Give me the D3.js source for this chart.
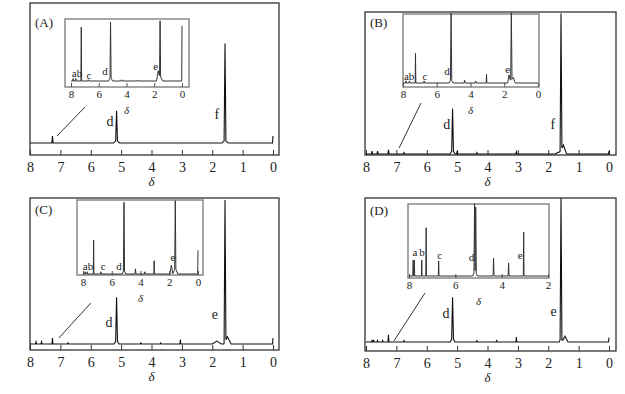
<!DOCTYPE html>
<html>
<head>
<meta charset="utf-8">
<script src="https://cdn.jsdelivr.net/npm/d3@7"></script>
<style>
  body { margin: 0; background: #fff; }
  svg { display: block; font-family: "Liberation Serif", "DejaVu Serif", serif; }
</style>
</head>
<body>
<svg id="chart" width="625" height="394"></svg>
<script>
// tick values
const mainTicks = [8, 7, 6, 5, 4, 3, 2, 1, 0];
const insetTicks = [8, 6, 4, 2, 0];
const insetTicksD = [8, 6, 4, 2];

// peaks: [ppm, intensity (0-100), half width in ppm]
const peaksA = [[7.26, 5, 0.02], [5.15, 21, 0.03], [5.15, 2, 0.1], [1.58, 69, 0.03], [1.58, 2, 0.1], [0, 5, 0.015]];
const peaksB = [[7.8, 2, 0.02], [7.62, 2, 0.02], [7.26, 3, 0.02], [6.75, 1, 0.02], [5.15, 29, 0.03], [5.15, 3, 0.08],
  [5.0, 2, 0.02], [4.35, 1, 0.02], [3.05, 1.5, 0.02], [1.58, 96, 0.03], [1.5, 5, 0.1], [1.58, 2, 0.2], [0, 2, 0.02]];
const peaksC = [[7.8, 1.5, 0.02], [7.62, 1.5, 0.02], [7.26, 4, 0.015], [6.75, 0.8, 0.02], [5.15, 29, 0.03], [5.15, 3, 0.08],
  [4.35, 0.8, 0.02], [3.7, 0.8, 0.02], [3.05, 3, 0.015], [1.85, 2, 0.15], [1.58, 97, 0.03], [1.5, 5, 0.12], [0, 4, 0.015]];
const peaksD = [[7.8, 1.5, 0.015], [7.75, 1.5, 0.015], [7.62, 1, 0.015], [7.45, 1, 0.015], [7.26, 5, 0.015], [6.75, 1, 0.02],
  [5.15, 28, 0.03], [5.15, 3, 0.08], [4.35, 1, 0.02], [3.7, 1, 0.02], [3.05, 3.5, 0.015], [1.58, 97, 0.03],
  [1.45, 4, 0.1], [1.58, 3, 0.06], [0, 3, 0.015]];

const insetPeaksA = [[7.85, 4, 0.03], [7.65, 4, 0.03], [7.26, 87, 0.025], [6.75, 2, 0.04], [5.15, 89, 0.04], [5.15, 6, 0.15],
  [4.35, 2, 0.04], [3.2, 1.5, 0.04], [1.72, 14, 0.12], [1.58, 89, 0.04], [1.58, 8, 0.2], [0, 89, 0.02]];
const insetPeaksB = [[7.82, 3, 0.03], [7.62, 3, 0.03], [7.26, 43, 0.02], [6.75, 3, 0.03], [5.15, 96, 0.04], [5.15, 5, 0.12],
  [4.35, 4, 0.03], [3.7, 3, 0.03], [3.05, 13, 0.02], [1.72, 10, 0.08], [1.58, 96, 0.04], [1.45, 6, 0.1], [1.58, 6, 0.2]];
const insetPeaksC = [[7.85, 3, 0.04], [7.7, 3, 0.03], [7.26, 46, 0.02], [6.75, 3, 0.03], [5.15, 91, 0.04], [5.15, 6, 0.12],
  [4.35, 7, 0.03], [3.7, 3, 0.03], [3.05, 18, 0.02], [1.85, 12, 0.1], [1.58, 91, 0.04], [1.58, 8, 0.18], [0, 32, 0.02]];
const insetPeaksD = [[7.82, 22, 0.015], [7.77, 22, 0.015], [7.45, 22, 0.015], [7.26, 67, 0.015], [6.72, 21, 0.015],
  [5.17, 94, 0.025], [5.12, 90, 0.025], [5.15, 8, 0.1], [4.35, 25, 0.02], [3.7, 18, 0.02], [3.05, 61, 0.015]];

// peak labels: [text, ppm, intensity]
const labelsA = [["d", 5.37, 12], ["f", 1.85, 17]];
const labelsB = [["d", 5.34, 17.6], ["f", 1.85, 17.6]];
const labelsC = [["d", 5.4, 11.6], ["e", 1.91, 17]];
const labelsD = [["d", 5.37, 16.7], ["e", 1.82, 18]];

const insetLabelsA = [["ab", 7.57, 6.5], ["c", 6.7, 3], ["d", 5.55, 9], ["e", 1.9, 17]];
const insetLabelsB = [["ab", 7.64, 5], ["c", 6.7, 5], ["d", 5.4, 11], ["e", 1.8, 14]];
const insetLabelsC = [["ab", 7.65, 6], ["c", 6.6, 6], ["d", 5.5, 6], ["e", 1.75, 18]];
const insetLabelsD = [["a", 7.74, 28], ["b", 7.44, 28], ["c", 6.67, 24], ["d", 5.3, 21.5], ["e", 3.2, 24]];

// connector from inset to the aromatic region: [[ppm, intensity], [ppm, intensity]]
const connA = [[6.19, 25.7], [7.11, 5]];
const connB = [[6.19, 35.9], [6.91, 4.2]];
const connC = [[6.0, 28], [7.05, 4.1]];
const connD = [[6.06, 34], [7.08, 0.7]];

const panels = [
  { name: "(A)", nx: 35, ny: 27, frame: [30, 279, 3, 155], xr: [30, 273], base: 143,
    peaks: peaksA, labels: labelsA, conn: connA,
    inset: { box: [65, 189, 19, 87], xr: [71, 182], base: 81, dom: [8, 0], ticks: insetTicks,
      peaks: insetPeaksA, labels: insetLabelsA } },
  { name: "(B)", nx: 370, ny: 27, frame: [365, 616, 12, 155], xr: [366, 609], base: 154,
    peaks: peaksB, labels: labelsB, conn: connB,
    inset: { box: [403, 539, 14, 87], xr: [403, 538], base: 83, dom: [8, 0], ticks: insetTicks,
      peaks: insetPeaksB, labels: insetLabelsB } },
  { name: "(C)", nx: 35, ny: 214, frame: [30, 279, 198, 350], xr: [30, 273], base: 344,
    peaks: peaksC, labels: labelsC, conn: connC,
    inset: { box: [77, 203, 200, 275], xr: [83, 198], base: 274, dom: [8, 0], ticks: insetTicks,
      peaks: insetPeaksC, labels: insetLabelsC } },
  { name: "(D)", nx: 370, ny: 215, frame: [365, 616, 198, 351], xr: [366, 609], base: 342,
    peaks: peaksD, labels: labelsD, conn: connD,
    inset: { box: [408, 549, 204, 278], xr: [409, 548], base: 276, dom: [8, 2], ticks: insetTicksD,
      peaks: insetPeaksD, labels: insetLabelsD } }
];

const svg = d3.select("#chart");
const ink = "#222";
const serif = "Liberation Serif";

// piecewise-linear spectrum built from the peak list
function spectrumPath(peaks, x, y, dom) {
  const hi = dom[0], lo = dom[1];
  let pts = [hi, lo];
  peaks.forEach(p => { pts.push(p[0] - p[2], p[0], p[0] + p[2]); });
  pts = Array.from(new Set(pts.filter(v => v >= lo && v <= hi))).sort((a, b) => b - a);
  const val = v => d3.sum(peaks, p => Math.max(0, p[1] * (1 - Math.abs(v - p[0]) / p[2])));
  return d3.line()(pts.map(v => [x(v), y(val(v))]));
}

panels.forEach(p => {
  const [fx0, fx1, fy0, fy1] = p.frame;
  const g = svg.append("g");

  const x = d3.scaleLinear().domain([8, 0]).range(p.xr);
  const y = d3.scaleLinear().domain([0, 100]).range([p.base, fy0]);

  g.append("rect")
    .attr("x", fx0).attr("y", fy0)
    .attr("width", fx1 - fx0).attr("height", fy1 - fy0)
    .attr("fill", "none").attr("stroke", "#333").attr("stroke-width", 1.3);

  const ax = g.append("g")
    .attr("transform", "translate(0," + fy1 + ")")
    .call(d3.axisBottom(x).tickValues(mainTicks).tickFormat(d3.format("d"))
      .tickSizeInner(-5).tickSizeOuter(0).tickPadding(7))
    .attr("font-family", serif);
  ax.select(".domain").remove();
  ax.selectAll("line").attr("stroke", "#333");
  ax.selectAll("text").attr("font-size", 14).attr("fill", ink);

  g.append("text")
    .attr("x", (p.xr[0] + p.xr[1]) / 2).attr("y", fy1 + 31)
    .attr("text-anchor", "middle").attr("font-style", "italic").attr("font-size", 13).attr("fill", ink)
    .text("δ");

  g.append("path")
    .attr("d", spectrumPath(p.peaks, x, y, [8, 0]))
    .attr("fill", "none").attr("stroke", "#111").attr("stroke-width", 1.1);

  g.selectAll("text.lab")
    .data(p.labels)
    .join("text")
    .attr("class", "lab")
    .attr("x", d => x(d[1])).attr("y", d => y(d[2]))
    .attr("text-anchor", "middle").attr("font-size", 14).attr("fill", ink)
    .text(d => d[0]);

  g.append("text")
    .attr("x", p.nx).attr("y", p.ny)
    .attr("font-size", 13).attr("fill", ink)
    .text(p.name);

  g.append("line")
    .attr("x1", x(p.conn[0][0])).attr("y1", y(p.conn[0][1]))
    .attr("x2", x(p.conn[1][0])).attr("y2", y(p.conn[1][1]))
    .attr("stroke", "#333").attr("stroke-width", 1);

  // inset
  const ins = p.inset;
  const [ix0, ix1, iy0, iy1] = ins.box;
  const xi = d3.scaleLinear().domain(ins.dom).range(ins.xr);
  const yi = d3.scaleLinear().domain([0, 100]).range([ins.base, iy0]);
  const gi = g.append("g");

  gi.append("rect")
    .attr("x", ix0).attr("y", iy0)
    .attr("width", ix1 - ix0).attr("height", iy1 - iy0)
    .attr("fill", "#fff").attr("stroke", "#888").attr("stroke-width", 1.5);

  const iax = gi.append("g")
    .attr("transform", "translate(0," + iy1 + ")")
    .call(d3.axisBottom(xi).tickValues(ins.ticks).tickFormat(d3.format("d"))
      .tickSizeInner(-4).tickSizeOuter(0).tickPadding(3))
    .attr("font-family", serif);
  iax.select(".domain").remove();
  iax.selectAll("line").attr("stroke", "#555");
  iax.selectAll("text").attr("font-size", 11).attr("fill", ink);

  gi.append("text")
    .attr("x", (ins.xr[0] + ins.xr[1]) / 2).attr("y", iy1 + 27)
    .attr("text-anchor", "middle").attr("font-style", "italic").attr("font-size", 11).attr("fill", ink)
    .text("δ");

  gi.append("path")
    .attr("d", spectrumPath(ins.peaks, xi, yi, ins.dom))
    .attr("fill", "none").attr("stroke", "#333").attr("stroke-width", 1);

  gi.selectAll("text.lab")
    .data(ins.labels)
    .join("text")
    .attr("class", "lab")
    .attr("x", d => xi(d[1])).attr("y", d => yi(d[2]))
    .attr("text-anchor", "middle").attr("font-size", 11).attr("fill", ink)
    .text(d => d[0]);
});
</script>
</body>
</html>
